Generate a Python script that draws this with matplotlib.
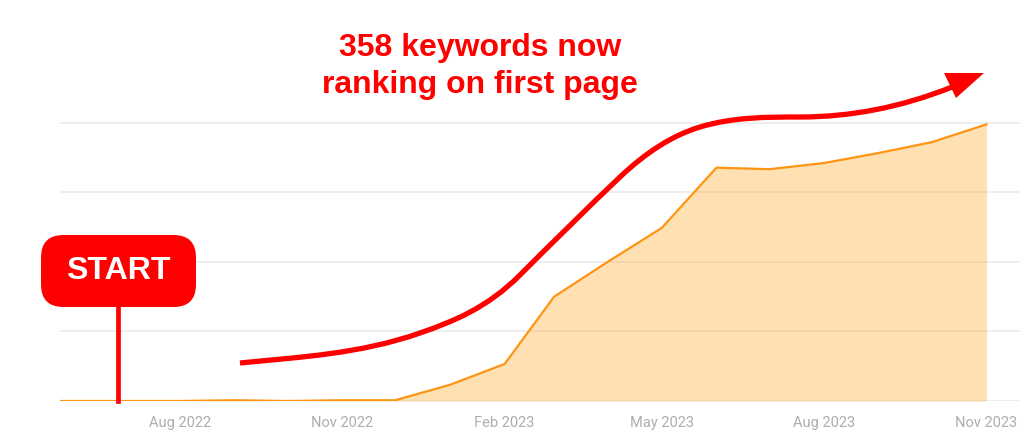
import pandas as pd
import matplotlib.pyplot as plt
from matplotlib.path import Path
from matplotlib.patches import PathPatch, Polygon, FancyBboxPatch

# keywords ranking on first page
dates = ["2022-05-25", "2022-06-01", "2022-07-01", "2022-08-01", "2022-09-01",
         "2022-10-01", "2022-11-01", "2022-12-01", "2023-01-01", "2023-02-01",
         "2023-03-01", "2023-04-01", "2023-05-01", "2023-06-01", "2023-07-01",
         "2023-08-01", "2023-09-01", "2023-10-01", "2023-11-01"]
keywords = [0, 0, 0, 0, 1, 0, 1, 1, 21, 48, 135, 181, 224, 302, 300, 308, 321, 335, 358]
tick_dates = ["2022-08-01", "2022-11-01", "2023-02-01", "2023-05-01", "2023-08-01", "2023-11-01"]
tick_labels = ["Aug 2022", "Nov 2022", "Feb 2023", "May 2023", "Aug 2023", "Nov 2023"]
grid_levels = [0, 90, 180, 270, 360]

# hand-drawn red arrow: pixel points it passes through and its slope there
arrow_pts = [(240, 363), (420, 333), (520, 275), (620, 177), (700, 127), (800, 117), (952, 87)]
arrow_slopes = [-0.1, -0.35, -1.0, -0.95, -0.3, 0.0, -0.4]

W, H = 1024, 438
fig = plt.figure(figsize=(W / 100, H / 100), dpi=100)

# helper: pixel position (from top-left) to figure fraction
def px(x, y):
    return (x / W, 1 - y / H)

# axes placed so the plot area matches the picture
ax = fig.add_axes([60 / W, (H - 401) / H, 960 / W, 401 / H])
x = pd.to_datetime(dates)
ax.fill_between(x, keywords, 0, color="#FF9900", alpha=0.3, lw=0, zorder=2)
ax.plot(x, keywords, color="#FF9412", lw=1.6, zorder=3)

ax.set_xlim(pd.Timestamp("2022-05-25"), pd.Timestamp("2023-11-20"))
ax.set_ylim(0, 519)
ax.set_yticks(grid_levels)
ax.yaxis.grid(True, color="#ebebeb", lw=1.2, zorder=1)
ax.set_axisbelow(True)
ax.tick_params(axis="y", left=False, labelleft=False)
ax.set_xticks(pd.to_datetime(tick_dates))
ax.set_xticklabels(tick_labels)
ax.tick_params(axis="x", length=0, pad=11, labelsize=10.5, labelcolor="#adadad")
for lbl in ax.get_xticklabels():
    lbl.set_fontfamily("Roboto")
for s in ax.spines.values():
    s.set_visible(False)

# red trend arrow as bezier segments with given tangents
verts = [px(*arrow_pts[0])]
for (x0, y0), (x1, y1), m0, m1 in zip(arrow_pts[:-1], arrow_pts[1:],
                                      arrow_slopes[:-1], arrow_slopes[1:]):
    d = (x1 - x0) / 3
    verts += [px(x0 + d, y0 + m0 * d), px(x1 - d, y1 - m1 * d), px(x1, y1)]
codes = [Path.MOVETO] + [Path.CURVE4] * (len(verts) - 1)
curve = PathPatch(Path(verts, codes), transform=fig.transFigure, fill=False,
                  edgecolor="#FF0000", lw=3.8, capstyle="butt")
fig.add_artist(curve)
head = Polygon([px(984, 73), px(944, 73), px(956, 98)], closed=True,
               transform=fig.transFigure, facecolor="#FF0000", edgecolor="none")
fig.add_artist(head)

fig.text(*px(480, 48), "358 keywords now", color="#FF0000", fontsize=23,
         fontweight="bold", family="Liberation Sans", ha="center", va="center")
fig.text(*px(480, 85), "ranking on first page", color="#FF0000", fontsize=23,
         fontweight="bold", family="Liberation Sans", ha="center", va="center")

# START flag
fig.add_artist(plt.Line2D([118 / W, 118 / W], [1 - 306 / H, 1 - 401 / H],
                          transform=fig.transFigure, color="#FF0000", lw=3.4))
box = FancyBboxPatch(px(41, 307), 155 / W, 72 / H,
                     boxstyle="round,pad=0,rounding_size=0.022",
                     transform=fig.transFigure, facecolor="#FF0000", edgecolor="none",
                     mutation_aspect=W / H)
fig.add_artist(box)
fig.text(*px(118, 271), "START", color="white", fontsize=23, fontweight="bold",
         family="Liberation Sans", ha="center", va="center")

fig.savefig("out.png", dpi=100)
